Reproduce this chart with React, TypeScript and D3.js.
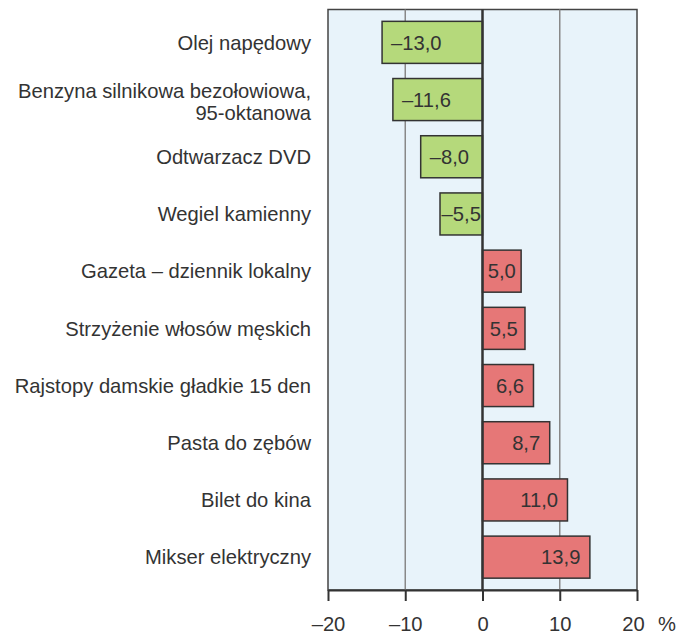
import React, { useEffect, useRef } from 'react'
import * as d3 from 'd3'

// categories (top to bottom) and their price change in %
const categories = [
    ['Olej napędowy'],
    ['Benzyna silnikowa bezołowiowa,', '95-oktanowa'],
    ['Odtwarzacz DVD'],
    ['Wegiel kamienny'],
    ['Gazeta – dziennik lokalny'],
    ['Strzyżenie włosów męskich'],
    ['Rajstopy damskie gładkie 15 den'],
    ['Pasta do zębów'],
    ['Bilet do kina'],
    ['Mikser elektryczny']
]
const values = [-13.0, -11.6, -8.0, -5.5, 5.0, 5.5, 6.6, 8.7, 11.0, 13.9]
const xTicks = [-20, -10, 0, 10, 20]

const W = 678
const H = 634
const margin = { top: 9.5, right: 41, bottom: 44, left: 328 }
const FONT = '"Liberation Sans", Arial, sans-serif'
const FS = 20.2
const TEXT = '#333333'

const fmt = (v: number) => (v < 0 ? '\u2013' : '') + Math.abs(v).toFixed(1).replace('.', ',')
const fmtTick = (v: number) => (v < 0 ? '\u2013' : '') + Math.abs(v)

export default function App() {
    const svgRef = useRef<SVGSVGElement | null>(null)

    useEffect(() => {
        const svg = d3.select(svgRef.current)
        svg.selectAll('*').remove()

        const x = d3.scaleLinear().domain([-20, 20]).range([margin.left, W - margin.right])
        const y = d3.scaleBand<number>()
            .domain(d3.range(values.length))
            .range([margin.top, H - margin.bottom])
            .paddingInner(0.265)
            .paddingOuter(0.207)

        const top = margin.top
        const bottom = H - margin.bottom

        // plot background
        svg.append('rect')
            .attr('x', x(-20))
            .attr('y', top)
            .attr('width', x(20) - x(-20))
            .attr('height', bottom - top)
            .attr('fill', '#e8f3fa')
            .attr('stroke', '#444')
            .attr('stroke-width', 1.5)

        // grid lines
        svg.append('g')
            .selectAll('line')
            .data([-10, 10])
            .join('line')
            .attr('x1', (d) => x(d))
            .attr('x2', (d) => x(d))
            .attr('y1', top)
            .attr('y2', bottom)
            .attr('stroke', '#888')
            .attr('stroke-width', 1.5)

        // bars
        const bars = svg.append('g')
        bars.selectAll('rect')
            .data(values)
            .join('rect')
            .attr('x', (d) => x(Math.min(0, d)))
            .attr('y', (d, i) => y(i))
            .attr('width', (d) => Math.abs(x(d) - x(0)))
            .attr('height', y.bandwidth())
            .attr('fill', (d) => (d < 0 ? '#b5d97b' : '#e67777'))
            .attr('stroke', '#333')
            .attr('stroke-width', 1.5)

        // zero line
        svg.append('line')
            .attr('x1', x(0))
            .attr('x2', x(0))
            .attr('y1', top)
            .attr('y2', bottom)
            .attr('stroke', '#333')
            .attr('stroke-width', 2.5)

        // value labels
        const labels = svg.append('g')
            .attr('font-family', FONT)
            .attr('font-size', FS)
            .attr('fill', TEXT)
        values.forEach((v, i) => {
            const t = labels.append('text')
                .attr('y', y(i) + y.bandwidth() / 2)
                .attr('dy', '0.36em')
                .text(fmt(v))
            const tw = (t.node() as SVGTextElement).getComputedTextLength()
            const barW = Math.abs(x(v) - x(0))
            if (barW < tw + 18) {
                t.attr('x', (x(v) + x(0)) / 2).attr('text-anchor', 'middle')
            } else if (v < 0) {
                t.attr('x', x(v) + 9).attr('text-anchor', 'start')
            } else {
                t.attr('x', x(v) - 9.5).attr('text-anchor', 'end')
            }
        })

        // category labels
        const cats = svg.append('g')
            .attr('font-family', FONT)
            .attr('font-size', FS)
            .attr('fill', TEXT)
            .attr('text-anchor', 'end')
        categories.forEach((lines, i) => {
            const cy = y(i) + y.bandwidth() / 2
            const lh = 21.5
            const shift = lines.length > 1 ? 2 : 0
            lines.forEach((line, j) => {
                cats.append('text')
                    .attr('x', margin.left - 17)
                    .attr('y', cy + shift + (j - (lines.length - 1) / 2) * lh)
                    .attr('dy', '0.36em')
                    .text(line)
            })
        })

        // x axis
        const axis = svg.append('g')
            .attr('transform', `translate(0,${bottom})`)
            .call(
                d3.axisBottom(x)
                    .tickValues(xTicks)
                    .tickFormat((d) => fmtTick(+d))
                    .tickSize(11)
                    .tickSizeOuter(0)
                    .tickPadding(16)
            )
        axis.select('.domain').attr('stroke', '#333').attr('stroke-width', 2)
        axis.selectAll('.tick line').attr('stroke', '#333').attr('stroke-width', 2)
        axis.selectAll('.tick text')
            .attr('font-family', FONT)
            .attr('font-size', FS)
            .attr('fill', TEXT)
        axis.selectAll('.tick text')
            .filter((d) => +d === 20)
            .attr('dx', -4)

        svg.append('text')
            .attr('x', 667)
            .attr('y', bottom + 27)
            .attr('dy', '0.71em')
            .attr('text-anchor', 'middle')
            .attr('font-family', FONT)
            .attr('font-size', FS)
            .attr('fill', TEXT)
            .text('%')
    }, [])

    return (
        <svg
            ref={svgRef}
            width={W}
            height={H}
            style={{ position: 'absolute', left: 0, top: 0, background: '#fff' }}
        />
    )
}
